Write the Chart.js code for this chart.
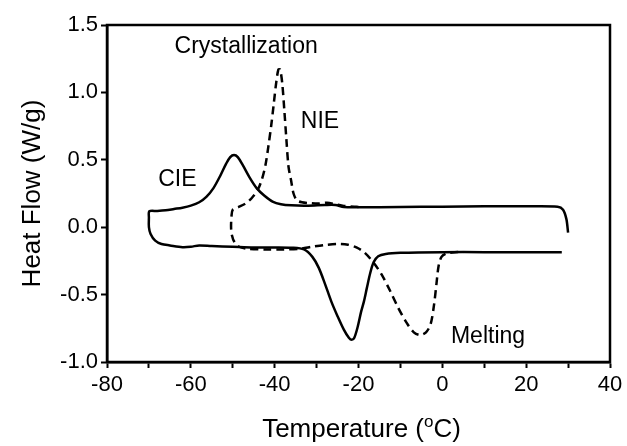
<!DOCTYPE html>
<html>
<head>
<meta charset="utf-8">
<script src="https://cdn.jsdelivr.net/npm/chart.js@4/dist/chart.umd.min.js"></script>
<style>
  html, body { margin: 0; padding: 0; background: #fff; }
</style>
</head>
<body>
<canvas id="dsc" width="627" height="446"></canvas>
<script>
// CIE (solid): cooling trace from 30 C down to -70 C, then heating trace back up
const cieTemp = [30, 29.6, 28.8, 27.5, 20, 10, 0, -10, -20, -23.5, -25.5, -28, -32, -36, -38.5,
  -40.5, -42.5, -44.3, -46, -47.6, -48.8, -49.7, -50.6, -51.6, -53, -54.6, -56.3, -58, -60, -62,
  -64, -66, -68, -69.9, -70, -70, -69.6, -68.5, -67, -65, -62, -60, -58, -55, -50, -45, -40, -36,
  -33, -31, -29.5, -28, -26.5, -25, -23.5, -22.3, -21.6, -21, -20.2, -19.4, -18.7, -18, -17.2,
  -16.4, -15.3, -13.5, -10, 0, 10, 20, 28.5];
const cieFlow = [-0.04, 0.06, 0.13, 0.152, 0.155, 0.155, 0.152, 0.15, 0.148, 0.15, 0.165, 0.165,
  0.16, 0.162, 0.17, 0.19, 0.235, 0.29, 0.37, 0.46, 0.52, 0.535, 0.52, 0.47, 0.38, 0.29, 0.225,
  0.185, 0.16, 0.145, 0.135, 0.125, 0.12, 0.118, 0.07, 0.0, -0.05, -0.1, -0.125, -0.135, -0.148,
  -0.145, -0.135, -0.14, -0.145, -0.15, -0.15, -0.152, -0.165, -0.22, -0.3, -0.42, -0.55, -0.66,
  -0.76, -0.82, -0.835, -0.82, -0.74, -0.63, -0.55, -0.45, -0.34, -0.26, -0.215, -0.198, -0.19,
  -0.185, -0.185, -0.185, -0.185];

// NIE (dashed): cooling trace from -20 C down to -50 C, then heating trace back up
const nieTemp = [-20, -21, -23.5, -25.5, -27.5, -29.5, -31.5, -33.5, -34.7, -35.5, -36.1, -36.7,
  -37.2, -37.7, -38.2, -38.7, -39.1, -39.6, -40.2, -40.8, -41.5, -42.2, -43, -44, -45.5, -47,
  -48.6, -50, -50.3, -50.4, -50.2, -49.6, -48.5, -46.5, -42, -38, -34, -31, -28, -25, -22.5,
  -20.5, -18.5, -16.5, -14.5, -12.5, -10.5, -8.5, -6.8, -5.3, -3.9, -2.8, -2, -1.4, -0.9, -0.2,
  1, 3, 5];
const nieFlow = [0.15, 0.152, 0.158, 0.17, 0.182, 0.175, 0.178, 0.185, 0.2, 0.25, 0.35, 0.45,
  0.65, 0.87, 1.07, 1.17, 1.17, 1.08, 0.92, 0.76, 0.6, 0.46, 0.36, 0.28, 0.215, 0.175, 0.15,
  0.13, 0.08, 0.0, -0.06, -0.11, -0.145, -0.16, -0.165, -0.165, -0.16, -0.145, -0.132, -0.125,
  -0.13, -0.15, -0.19, -0.26, -0.35, -0.47, -0.6, -0.71, -0.78, -0.8, -0.78, -0.72, -0.58, -0.42,
  -0.29, -0.22, -0.195, -0.185, -0.185];

const xTickLabels = [-80, -60, -40, -20, 0, 20, 40];
const yTickLabels = [-1.0, -0.5, 0.0, 0.5, 1.0, 1.5];

const FONT = '"Liberation Sans", Arial, sans-serif';

function toPoints(xs, ys) {
    return xs.map((t, i) => ({ x: t, y: ys[i] }));
}

// frame, text labels and the x title with a raised "o"
const notesPlugin = {
    id: 'notes',
    afterDraw(chart) {
        const { ctx, chartArea: a, scales: { x, y } } = chart;
        ctx.save();
        ctx.strokeStyle = '#000';
        ctx.lineWidth = 2.5;
        ctx.strokeRect(a.left, a.top, a.right - a.left, a.bottom - a.top);

        ctx.fillStyle = '#000';
        ctx.textAlign = 'center';
        ctx.textBaseline = 'middle';
        ctx.font = '23px ' + FONT;
        ctx.fillText('Crystallization', x.getPixelForValue(-46.8), y.getPixelForValue(1.34));
        ctx.fillText('NIE', x.getPixelForValue(-29.2), y.getPixelForValue(0.78));
        ctx.fillText('CIE', x.getPixelForValue(-63.2), y.getPixelForValue(0.35));
        ctx.fillText('Melting', x.getPixelForValue(10.9), y.getPixelForValue(-0.81));

        // x axis title
        const big = '26px ' + FONT, small = '17px ' + FONT;
        ctx.textAlign = 'left';
        ctx.textBaseline = 'alphabetic';
        ctx.font = big;
        const w1 = ctx.measureText('Temperature (').width;
        const w3 = ctx.measureText('C)').width;
        ctx.font = small;
        const w2 = ctx.measureText('o').width;
        const cx = (a.left + a.right) / 2 + 3;
        const base = 437;
        let px = cx - (w1 + w2 + w3) / 2;
        ctx.font = big;
        ctx.fillText('Temperature (', px, base);
        px += w1;
        ctx.font = small;
        ctx.fillText('o', px, base - 10);
        px += w2;
        ctx.font = big;
        ctx.fillText('C)', px, base);
        ctx.restore();
    }
};

Chart.defaults.color = '#000';
Chart.defaults.font.family = FONT;

new Chart(document.getElementById('dsc'), {
    type: 'scatter',
    data: {
        datasets: [{
            label: 'CIE',
            data: toPoints(cieTemp, cieFlow),
            showLine: true,
            borderColor: '#000',
            borderWidth: 2.5,
            pointRadius: 0,
            tension: 0.3
        }, {
            label: 'NIE',
            data: toPoints(nieTemp, nieFlow),
            showLine: true,
            borderColor: '#000',
            borderWidth: 2.5,
            borderDash: [8, 5],
            pointRadius: 0,
            tension: 0.3
        }]
    },
    options: {
        responsive: false,
        animation: false,
        layout: { padding: { top: 25, right: 17, left: 0, bottom: 0 } },
        plugins: { legend: { display: false }, tooltip: { enabled: false } },
        scales: {
            x: {
                type: 'linear',
                min: -80,
                max: 40,
                afterBuildTicks: s => {
                    const t = [];
                    for (let v = -80; v <= 40; v += 10) t.push({ value: v });
                    s.ticks = t;
                },
                afterFit: s => { s.height = 84; },
                ticks: {
                    autoSkip: false,
                    maxRotation: 0,
                    padding: 4,
                    font: { size: 22 },
                    callback: v => xTickLabels.includes(v) ? String(v) : ''
                },
                grid: { drawOnChartArea: false, drawTicks: true, tickLength: 6, tickWidth: 2, color: '#000' },
                border: { display: true, width: 2.5, color: '#000' }
            },
            y: {
                min: -1,
                max: 1.5,
                afterBuildTicks: s => { s.ticks = yTickLabels.map(v => ({ value: v })); },
                afterFit: s => { s.width = 107; },
                ticks: {
                    padding: 3,
                    font: { size: 22 },
                    callback: v => v.toFixed(1)
                },
                grid: { drawOnChartArea: false, drawTicks: true, tickLength: 6, tickWidth: 2, color: '#000' },
                border: { display: true, width: 2.5, color: '#000' },
                title: {
                    display: true,
                    text: 'Heat Flow (W/g)',
                    font: { size: 26 },
                    padding: { top: 17, bottom: 0 }
                }
            }
        }
    },
    plugins: [notesPlugin]
});
</script>
</body>
</html>
